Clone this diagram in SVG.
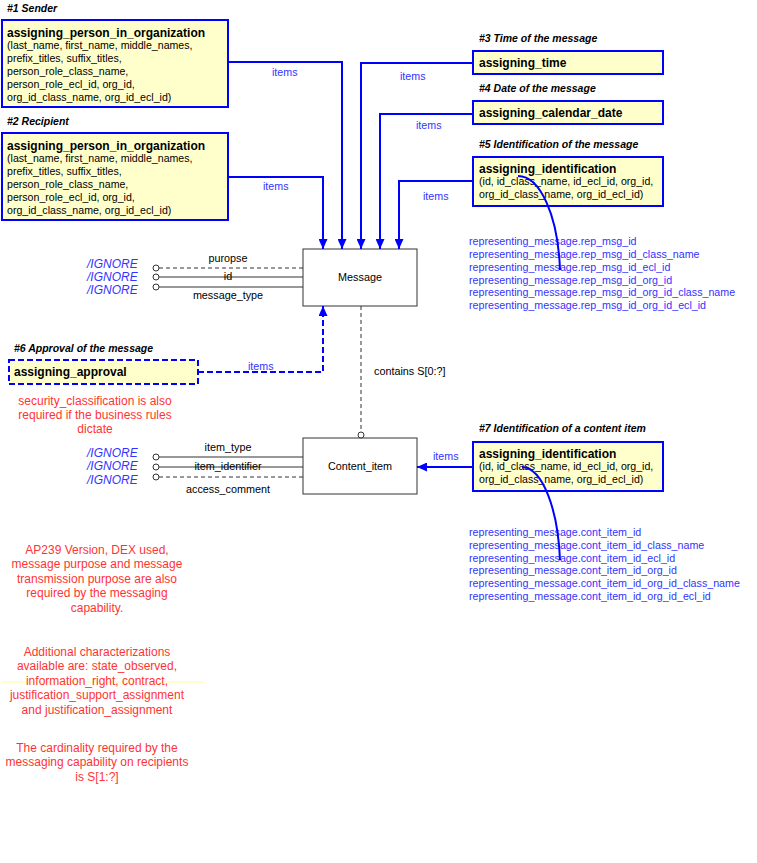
<svg xmlns="http://www.w3.org/2000/svg" width="757" height="863" viewBox="0 0 757 863">
<style>
.bg{fill:#ffffff}
.box{fill:#ffffcc;stroke:#0000ff;stroke-width:2}
.dbox{fill:#ffffcc;stroke:#0000ff;stroke-width:2;stroke-dasharray:6,3}
.ent{fill:#ffffff;stroke:#333333;stroke-width:1}
.hdr{font-family:"Liberation Sans",Arial,sans-serif;font-size:10.5px;font-weight:bold;font-style:italic;fill:#000000}
.ttl{font-family:"Liberation Sans",Arial,sans-serif;font-size:12px;font-weight:bold;fill:#000000}
.att{font-family:"Liberation Sans",Arial,sans-serif;font-size:10.6px;fill:#000000}
.lbl{font-family:"Liberation Sans",Arial,sans-serif;font-size:10.7px;fill:#3333ff}
.rep{font-family:"Liberation Sans",Arial,sans-serif;font-size:10.7px;fill:#3333ff}
.ign{font-family:"Liberation Sans",Arial,sans-serif;font-size:12px;font-style:italic;fill:#3333ff}
.name{font-family:"Liberation Sans",Arial,sans-serif;font-size:10.8px;fill:#000000}
.red{font-family:"Liberation Sans",Arial,sans-serif;font-size:12px;fill:#ff3333;text-anchor:middle}
.bl{fill:none;stroke:#0000ff;stroke-width:2}
.bld{fill:none;stroke:#0000ff;stroke-width:2;stroke-dasharray:6,3}
.k{fill:none;stroke:#333333;stroke-width:1}
.kd{fill:none;stroke:#333333;stroke-width:1;stroke-dasharray:4,3}
.circ{fill:#ffffff;stroke:#333333;stroke-width:1}
</style>
<defs>
<marker id="arr" markerUnits="userSpaceOnUse" markerWidth="10" markerHeight="9" refX="10" refY="4.5" orient="auto">
<path d="M0,0 L10,4.5 L0,9 z" fill="#0000ff"/>
</marker>
</defs>
<rect class="bg" x="0" y="0" width="757" height="863"/>

<g id="sender">
<text class="hdr" x="7" y="12">#1 Sender</text>
<rect class="box" x="2" y="20" width="226" height="87"/>
<text class="ttl" x="7" y="37">assigning_person_in_organization</text>
<text class="att" x="7" y="49">(last_name, first_name, middle_names,</text>
<text class="att" x="7" y="62">prefix_titles, suffix_titles,</text>
<text class="att" x="7" y="75">person_role_class_name,</text>
<text class="att" x="7" y="88">person_role_ecl_id, org_id,</text>
<text class="att" x="7" y="101">org_id_class_name, org_id_ecl_id)</text>
</g>

<g id="recipient">
<text class="hdr" x="7" y="125">#2 Recipient</text>
<rect class="box" x="2" y="133" width="226" height="87"/>
<text class="ttl" x="7" y="150">assigning_person_in_organization</text>
<text class="att" x="7" y="162">(last_name, first_name, middle_names,</text>
<text class="att" x="7" y="175">prefix_titles, suffix_titles,</text>
<text class="att" x="7" y="188">person_role_class_name,</text>
<text class="att" x="7" y="201">person_role_ecl_id, org_id,</text>
<text class="att" x="7" y="214">org_id_class_name, org_id_ecl_id)</text>
</g>

<g id="time">
<text class="hdr" x="479" y="42">#3 Time of the message</text>
<rect class="box" x="473" y="51" width="190" height="23"/>
<text class="ttl" x="479" y="67">assigning_time</text>
</g>

<g id="date">
<text class="hdr" x="479" y="92">#4 Date of the message</text>
<rect class="box" x="473" y="101" width="190" height="23"/>
<text class="ttl" x="479" y="117">assigning_calendar_date</text>
</g>

<g id="ident_message">
<text class="hdr" x="479" y="148">#5 Identification of the message</text>
<rect class="box" x="473" y="157" width="190" height="49"/>
<text class="ttl" x="479" y="173">assigning_identification</text>
<text class="att" x="479" y="185">(id, id_class_name, id_ecl_id, org_id,</text>
<text class="att" x="479" y="198">org_id_class_name, org_id_ecl_id)</text>
<text class="rep" x="469" y="245">representing_message.rep_msg_id</text>
<text class="rep" x="469" y="258">representing_message.rep_msg_id_class_name</text>
<text class="rep" x="469" y="271">representing_message.rep_msg_id_ecl_id</text>
<text class="rep" x="469" y="284">representing_message.rep_msg_id_org_id</text>
<text class="rep" x="469" y="296">representing_message.rep_msg_id_org_id_class_name</text>
<text class="rep" x="469" y="309">representing_message.rep_msg_id_org_id_ecl_id</text>
</g>

<g id="message">
<rect class="ent" x="303" y="249" width="114" height="57"/>
<text class="name" x="360" y="281" text-anchor="middle">Message</text>
</g>

<g id="approval">
<text class="hdr" x="14" y="352">#6 Approval of the message</text>
<rect class="dbox" x="9" y="360" width="189" height="24"/>
<text class="ttl" x="14" y="376">assigning_approval</text>
<text class="red" x="95" y="405">security_classification is also</text>
<text class="red" x="95" y="419">required if the business rules</text>
<text class="red" x="95" y="433">dictate</text>
</g>

<g id="content_item">
<rect class="ent" x="303" y="438" width="114" height="56"/>
<text class="name" x="360" y="470" text-anchor="middle">Content_item</text>
</g>

<g id="ident_content">
<text class="hdr" x="479" y="432">#7 Identification of a content item</text>
<rect class="box" x="473" y="442" width="190" height="49"/>
<text class="ttl" x="479" y="458">assigning_identification</text>
<text class="att" x="479" y="470">(id, id_class_name, id_ecl_id, org_id,</text>
<text class="att" x="479" y="483">org_id_class_name, org_id_ecl_id)</text>
<text class="rep" x="469" y="536">representing_message.cont_item_id</text>
<text class="rep" x="469" y="549">representing_message.cont_item_id_class_name</text>
<text class="rep" x="469" y="562">representing_message.cont_item_id_ecl_id</text>
<text class="rep" x="469" y="574">representing_message.cont_item_id_org_id</text>
<text class="rep" x="469" y="587">representing_message.cont_item_id_org_id_class_name</text>
<text class="rep" x="469" y="600">representing_message.cont_item_id_org_id_ecl_id</text>
</g>

<g id="notes">
<text class="red" x="97" y="554">AP239 Version, DEX used,</text>
<text class="red" x="97" y="568">message purpose and message</text>
<text class="red" x="97" y="583">transmission purpose are also</text>
<text class="red" x="97" y="597">required by the messaging</text>
<text class="red" x="97" y="612">capability.</text>
<line x1="2" y1="682" x2="204" y2="682" stroke="#ffff99" stroke-width="1"/>
<text class="red" x="97" y="656">Additional characterizations</text>
<text class="red" x="97" y="670">available are: state_observed,</text>
<text class="red" x="97" y="685">information_right, contract,</text>
<text class="red" x="97" y="699">justification_support_assignment</text>
<text class="red" x="97" y="714">and justification_assignment</text>
<text class="red" x="97" y="752">The cardinality required by the</text>
<text class="red" x="97" y="766">messaging capability on recipients</text>
<text class="red" x="97" y="781">is S[1:?]</text>
</g>

<g id="connectors">
<path class="bl" d="M228,177 H323 V249" marker-end="url(#arr)"/>
<path class="bl" d="M228,62 H342 V249" marker-end="url(#arr)"/>
<path class="bl" d="M473,63 H361 V249" marker-end="url(#arr)"/>
<path class="bl" d="M473,114 H380 V249" marker-end="url(#arr)"/>
<path class="bl" d="M473,181 H399 V249" marker-end="url(#arr)"/>
<path class="bld" d="M198,372 H323 V306" marker-end="url(#arr)"/>
<path class="bl" d="M473,467 H417" marker-end="url(#arr)"/>
<path class="kd" d="M361,306 V432"/>
<circle class="circ" cx="361" cy="435" r="3"/>
<path class="bl" d="M518,176 C540,176 558,215 560,270"/>
<path class="bl" d="M522,467 C543,468 558,510 560,560"/>
<text class="lbl" x="272" y="76">items</text>
<text class="lbl" x="263" y="190">items</text>
<text class="lbl" x="400" y="80">items</text>
<text class="lbl" x="416" y="129">items</text>
<text class="lbl" x="423" y="200">items</text>
<text class="lbl" x="248" y="370">items</text>
<text class="lbl" x="433" y="460">items</text>
<text class="name" x="374" y="375">contains S[0:?]</text>
<path class="kd" d="M159,268 H303"/>
<path class="k" d="M159,277 H303"/>
<path class="k" d="M159,287 H303"/>
<circle class="circ" cx="156" cy="268" r="3"/>
<circle class="circ" cx="156" cy="277" r="3"/>
<circle class="circ" cx="156" cy="287" r="3"/>
<text class="name" x="228" y="262" text-anchor="middle">puropse</text>
<text class="name" x="228" y="280" text-anchor="middle">id</text>
<text class="name" x="228" y="299" text-anchor="middle">message_type</text>
<text class="ign" x="87" y="268">/IGNORE</text>
<text class="ign" x="87" y="281">/IGNORE</text>
<text class="ign" x="87" y="294">/IGNORE</text>
<path class="k" d="M159,457 H303"/>
<path class="k" d="M159,467 H303"/>
<path class="kd" d="M159,477 H303"/>
<circle class="circ" cx="156" cy="457" r="3"/>
<circle class="circ" cx="156" cy="467" r="3"/>
<circle class="circ" cx="156" cy="477" r="3"/>
<text class="name" x="228" y="451" text-anchor="middle">item_type</text>
<text class="name" x="228" y="470" text-anchor="middle">item_identifier</text>
<text class="name" x="228" y="493" text-anchor="middle">access_comment</text>
<text class="ign" x="87" y="457">/IGNORE</text>
<text class="ign" x="87" y="470">/IGNORE</text>
<text class="ign" x="87" y="484">/IGNORE</text>
</g>
</svg>
